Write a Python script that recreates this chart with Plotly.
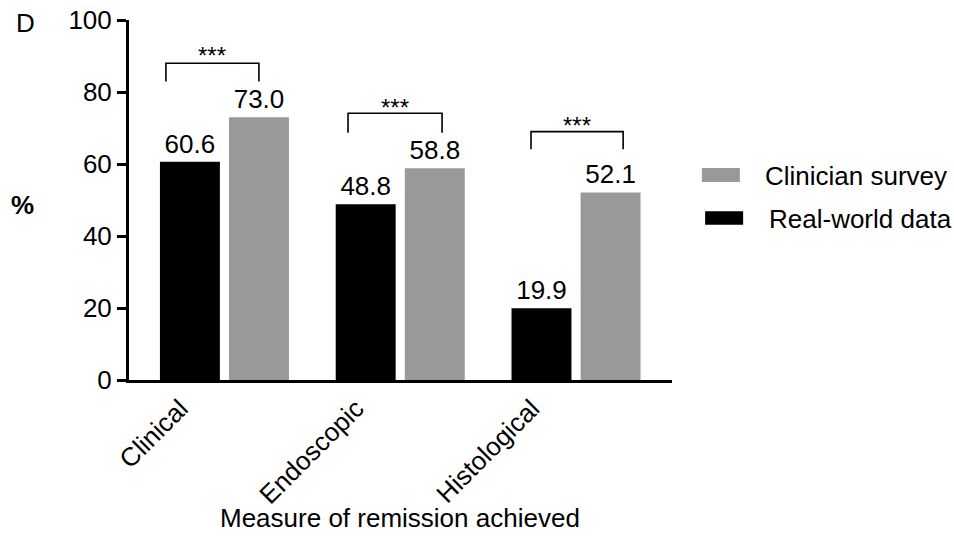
import plotly.graph_objects as go

categories = ["Clinical", "Endoscopic", "Histological"]
series_names = ["Real-world data", "Clinician survey"]
real_world = [60.6, 48.8, 19.9]
clinician = [73.0, 58.8, 52.1]
y_ticks = [0, 20, 40, 60, 80, 100]
sig_labels = ["***", "***", "***"]

FONT = "Arial, Liberation Sans, sans-serif"
FS = 26

fig = go.Figure()
fig.add_trace(go.Bar(
    x=categories, y=real_world, name=series_names[0],
    marker=dict(color="#000000", line=dict(width=0)),
    width=0.341, offset=-0.367,
    text=[f"{v:.1f}" for v in real_world], textposition="outside",
    textfont=dict(family=FONT, size=FS, color="#000"),
    cliponaxis=False, showlegend=False,
))
fig.add_trace(go.Bar(
    x=categories, y=clinician, name=series_names[1],
    marker=dict(color="#999999", line=dict(width=0)),
    width=0.341, offset=0.026,
    text=[f"{v:.1f}" for v in clinician], textposition="outside",
    textfont=dict(family=FONT, size=FS, color="#000"),
    cliponaxis=False, showlegend=False,
))

# significance brackets (x in category index units, y in data units)
brackets = [
    (-0.333, 0.196, 88.0, 82.9, 91.2),
    (0.703, 1.238, 74.1, 68.7, 76.9),
    (1.744, 2.268, 69.0, 64.1, 71.8),
]
shapes = []
annotations = []
for (x0, x1, ytop, ybot, ystar), lab in zip(brackets, sig_labels):
    shapes.append(dict(type="path", xref="x", yref="y",
                       path=f"M {x0},{ybot} L {x0},{ytop} L {x1},{ytop} L {x1},{ybot}",
                       line=dict(color="#000", width=1.6)))
    annotations.append(dict(x=(x0 + x1) / 2, y=ystar, xref="x", yref="y",
                            text=lab, showarrow=False, yanchor="middle", yshift=-4,
                            font=dict(family=FONT, size=24, color="#000")))

# manual legend
shapes.append(dict(type="rect", xref="paper", yref="paper", x0=1.055, x1=1.125, y0=0.55, y1=0.589,
                   fillcolor="#999999", line=dict(width=0)))
shapes.append(dict(type="rect", xref="paper", yref="paper", x0=1.061, x1=1.131, y0=0.431, y1=0.469,
                   fillcolor="#000000", line=dict(width=0)))
annotations.append(dict(x=1.168, y=0.567, xref="paper", yref="paper", text=series_names[1],
                        showarrow=False, xanchor="left", yanchor="middle",
                        font=dict(family=FONT, size=FS, color="#000")))
annotations.append(dict(x=1.175, y=0.447, xref="paper", yref="paper", text=series_names[0],
                        showarrow=False, xanchor="left", yanchor="middle",
                        font=dict(family=FONT, size=FS, color="#000")))

# panel label, y title, x title
annotations.append(dict(x=-0.1915, y=0.992, xref="paper", yref="paper", text="D",
                        showarrow=False, xanchor="center", yanchor="middle",
                        font=dict(family=FONT, size=FS, color="#000")))
annotations.append(dict(x=-0.197, y=0.486, xref="paper", yref="paper", text="<b>%</b>",
                        showarrow=False, xanchor="center", yanchor="middle",
                        font=dict(family=FONT, size=FS, color="#000")))
annotations.append(dict(x=0.499, y=-0.383, xref="paper", yref="paper",
                        text="Measure of remission achieved",
                        showarrow=False, xanchor="center", yanchor="middle",
                        font=dict(family=FONT, size=FS, color="#000")))

fig.update_layout(
    width=954, height=551,
    margin=dict(l=129, r=282, t=20, b=171, autoexpand=False),
    paper_bgcolor="white", plot_bgcolor="white",
    barmode="group",
    shapes=shapes, annotations=annotations,
    font=dict(family=FONT, size=FS, color="#000"),
    xaxis=dict(
        type="category", range=[-0.543, 2.546], automargin=False,
        showline=True, linecolor="#000", linewidth=3,
        ticks="", tickangle=-45, ticklabelshift=-44,
        tickfont=dict(family=FONT, size=FS, color="#000"),
        showgrid=False, zeroline=False,
    ),
    yaxis=dict(
        range=[0, 100], tickvals=y_ticks, automargin=False,
        showline=True, linecolor="#000", linewidth=3,
        ticks="outside", ticklen=9, tickwidth=3, tickcolor="#000",
        tickfont=dict(family=FONT, size=FS, color="#000"),
        showgrid=False, zeroline=False,
    ),
)

fig.write_html("out.html", config={"displayModeBar": False},
               post_script="document.body.style.margin='0px';document.body.style.overflow='hidden';")
